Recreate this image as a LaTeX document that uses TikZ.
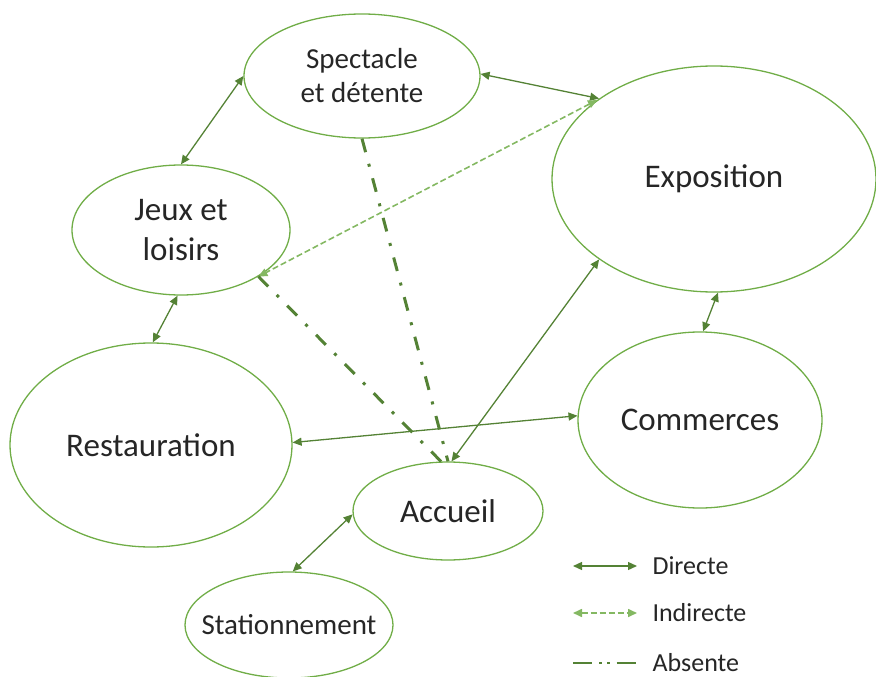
\documentclass[tikz,border=0pt]{standalone}
\usepackage{fontspec}
\setmainfont{Carlito}
\usetikzlibrary{shapes.geometric,arrows.meta}
\definecolor{ebord}{HTML}{70AD47}
\definecolor{arr}{HTML}{548235}
\definecolor{ind}{HTML}{84B862}
\definecolor{txt}{HTML}{262626}
\begin{document}
\begin{tikzpicture}[x=1pt,y=-1pt,
  bub/.style={ellipse,draw=ebord,line width=1.3pt,inner sep=0pt,text=txt,align=center},
  big/.style={font=\fontsize{33}{40}\selectfont},
  mid/.style={font=\fontsize{29}{34}\selectfont},
  leg/.style={anchor=west,text=txt,font=\fontsize{26}{30}\selectfont},
  tipd/.tip={Triangle[length=9pt,width=8pt]},
  direct/.style={arr,line width=1.3pt,tipd-tipd},
  indirect/.style={ind,line width=1.6pt,dash pattern=on 6pt off 3pt,tipd-tipd},
  absent/.style={arr,line width=3pt,dash pattern=on 14pt off 12pt on 3pt off 12pt},
]
\useasboundingbox (0,0) rectangle (876,677);

\node[bub,mid,minimum width=236pt,minimum height=124pt] (spec) at (362,76) {Spectacle\\et détente};
\node[bub,big,minimum width=324pt,minimum height=226pt] (expo) at (714,179) {Exposition};
\node[bub,big,minimum width=218pt,minimum height=130pt] (jeux) at (181,230) {Jeux et\\loisirs};
\node[bub,big,minimum width=282pt,minimum height=204pt] (resto) at (151,445) {\makebox[0pt]{Restauration}};
\node[bub,big,minimum width=244pt,minimum height=176pt] (comm) at (700,420) {\makebox[0pt]{Commerces}};
\node[bub,big,minimum width=190pt,minimum height=98pt] (acc) at (448,511) {\makebox[0pt]{Accueil}};
\node[bub,mid,minimum width=208pt,minimum height=106pt] (stat) at (289,625) {\makebox[0pt]{Stationnement}};

\draw[direct] (spec.180) -- (jeux.90);
\draw[direct] (spec.1) -- (expo.145);
\draw[indirect] (expo.146) -- (jeux.329);
\draw[absent] (spec.270) -- (acc.90);
\draw[absent] (jeux.329) -- (acc.98);
\draw[direct] (acc.86) -- (expo.215);
\draw[direct] (resto.1) -- (comm.178);
\draw[direct] (jeux.267) -- (resto.89);
\draw[direct] (expo.272) -- (comm.88);
\draw[direct] (acc.182) -- (stat.86);

\coordinate (d1) at (573,566); \coordinate (d2) at (637,566);
\coordinate (i1) at (573,613); \coordinate (i2) at (637,613);
\coordinate (a1) at (573,663); \coordinate (a2) at (636,663);
\draw[direct] (d1) -- (d2);
\draw[indirect] (i1) -- (i2);
\draw[arr,line width=2.8pt,dash pattern=on 19pt off 7pt on 2.5pt off 5.5pt on 2.5pt off 7pt] (a1) -- (a2);
\node[leg] (ld) at (649,566) {Directe};
\node[leg] (li) at (649,613) {Indirecte};
\node[leg] (la) at (649,663) {Absente};
\end{tikzpicture}
\end{document}
